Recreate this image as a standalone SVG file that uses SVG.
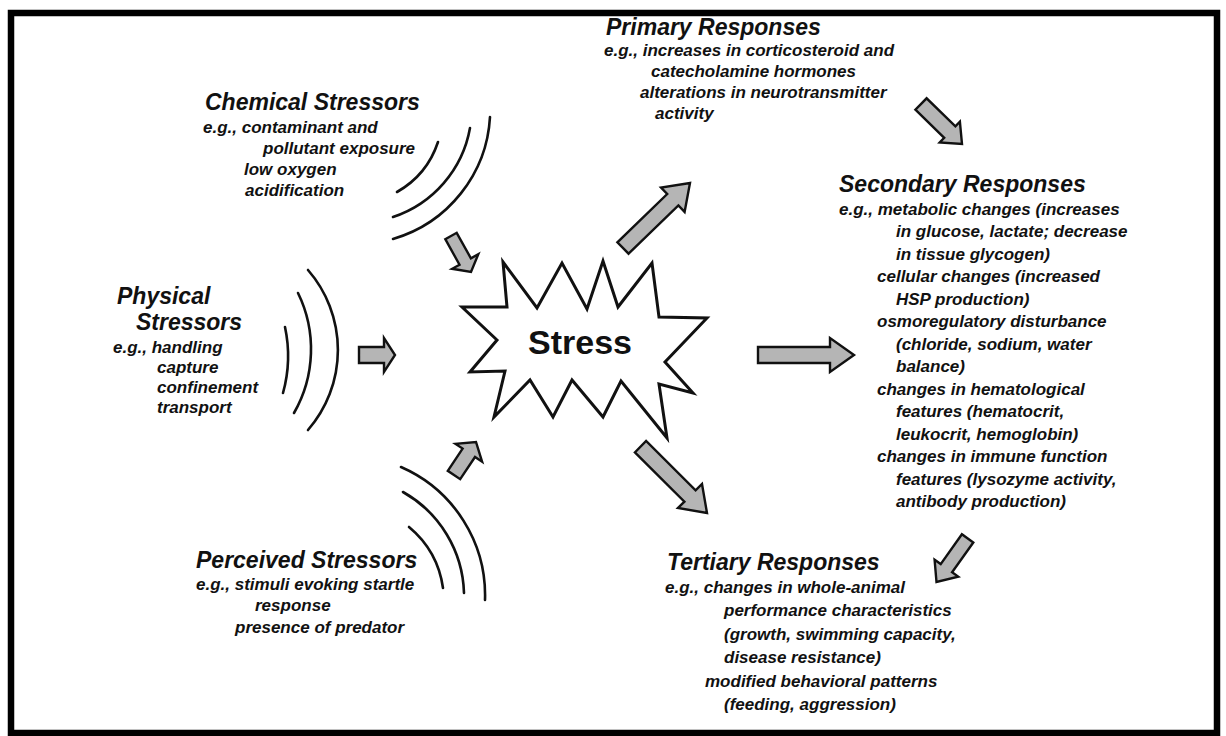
<svg xmlns="http://www.w3.org/2000/svg" width="1226" height="736" viewBox="0 0 1226 736">
<style>
text{font-family:"Liberation Sans",Arial,Helvetica,sans-serif;fill:#111}
.t{font-size:23px;font-weight:bold;font-style:italic}
.b{font-size:17px;font-weight:bold;font-style:italic}
.arc{fill:none;stroke:#111;stroke-width:2.6;stroke-linecap:round}
.arrow{fill:#b5b5b5;stroke:#111;stroke-width:2.4;stroke-linejoin:miter}
.star{fill:#fff;stroke:#111;stroke-width:3;stroke-linejoin:miter}
.stress{font-size:34px;font-weight:bold}
</style>
<rect x="0" y="0" width="1226" height="736" fill="#fff"/>
<rect x="11" y="13" width="1206" height="720" fill="none" stroke="#000" stroke-width="6.5"/>

<g id="chemical">
<text class="t" x="205" y="110">Chemical Stressors</text>
<text class="b" x="203" y="133">e.g., contaminant and</text>
<text class="b" x="263" y="154">pollutant exposure</text>
<text class="b" x="244" y="175">low oxygen</text>
<text class="b" x="245" y="196">acidification</text>
<path class="arc" d="M397,192 A90,90 0 0,0 438,142"/>
<path class="arc" d="M393,217 A115,115 0 0,0 470,128"/>
<path class="arc" d="M393,239 A135,135 0 0,0 490,117"/>
</g>

<g id="physical">
<text class="t" x="117" y="304">Physical</text>
<text class="t" x="136" y="330">Stressors</text>
<text class="b" x="113" y="353">e.g., handling</text>
<text class="b" x="157" y="373">capture</text>
<text class="b" x="157" y="393">confinement</text>
<text class="b" x="157" y="413">transport</text>
<path class="arc" d="M285,327 A138,138 0 0,1 283,393"/>
<path class="arc" d="M298,293 A128,128 0 0,1 294,413"/>
<path class="arc" d="M308,270 A122,122 0 0,1 308,430"/>
</g>

<g id="perceived">
<text class="t" x="196" y="568">Perceived Stressors</text>
<text class="b" x="196" y="590">e.g., stimuli evoking startle</text>
<text class="b" x="255" y="611">response</text>
<text class="b" x="235" y="633">presence of predator</text>
<path class="arc" d="M409,527 A97,97 0 0,1 443,588"/>
<path class="arc" d="M403,492 A120,120 0 0,1 464,593"/>
<path class="arc" d="M401,467 A140,140 0 0,1 485,600"/>
</g>

<g id="stress">
<polygon class="star" points="503,262 537,308 562,263 587,309 603,261 618,307 652,263 659,317 707,318 665,362 693,393 659,384 667,438 621,381 603,417 572,380 553,417 530,380 494,417 505,371 470,372 497,340 462,307 507,307"/>
<text class="stress" x="528" y="354">Stress</text>
</g>

<g id="primary">
<text class="t" x="606" y="35">Primary Responses</text>
<text class="b" x="604" y="56">e.g., increases in corticosteroid and</text>
<text class="b" x="651" y="77">catecholamine hormones</text>
<text class="b" x="640" y="98">alterations in neurotransmitter</text>
<text class="b" x="655" y="119">activity</text>
</g>

<g id="secondary">
<text class="t" x="839" y="192">Secondary Responses</text>
<text class="b" x="839" y="215">e.g., metabolic changes (increases</text>
<text class="b" x="896" y="237">in glucose, lactate; decrease</text>
<text class="b" x="896" y="260">in tissue glycogen)</text>
<text class="b" x="877" y="282">cellular changes (increased</text>
<text class="b" x="896" y="305">HSP production)</text>
<text class="b" x="877" y="327">osmoregulatory disturbance</text>
<text class="b" x="896" y="350">(chloride, sodium, water</text>
<text class="b" x="896" y="372">balance)</text>
<text class="b" x="877" y="395">changes in hematological</text>
<text class="b" x="896" y="417">features (hematocrit,</text>
<text class="b" x="896" y="440">leukocrit, hemoglobin)</text>
<text class="b" x="877" y="462">changes in immune function</text>
<text class="b" x="896" y="485">features (lysozyme activity,</text>
<text class="b" x="896" y="507">antibody production)</text>
</g>

<g id="tertiary">
<text class="t" x="667" y="570">Tertiary Responses</text>
<text class="b" x="665" y="593">e.g., changes in whole-animal</text>
<text class="b" x="724" y="616">performance characteristics</text>
<text class="b" x="724" y="640">(growth, swimming capacity,</text>
<text class="b" x="724" y="663">disease resistance)</text>
<text class="b" x="705" y="687">modified behavioral patterns</text>
<text class="b" x="724" y="710">(feeding, aggression)</text>
</g>

<g id="connectors">
<polygon id="a-chem" class="arrow" points="445.3,239.2 459.5,264.7 452.1,268.8 471,272 478.3,254.2 470.9,258.3 456.7,232.8"/>
<polygon id="a-phys" class="arrow" points="359,347 384,347 384,338 395,355 384,372 384,363 359,363"/>
<polygon id="a-perc" class="arrow" points="460.2,479.2 475,457 482.1,461.7 476,442 455.5,443.9 462.6,448.6 447.8,470.8"/>
<polygon id="a-primary" class="arrow" points="628.6,253.7 678.4,205.4 684.6,211.9 690,183 661,187.5 667.2,194 617.4,242.3"/>
<polygon id="a-secondary" class="arrow" points="758,347 830,347 830,338 854,355 830,372 830,363 758,363"/>
<polygon id="a-tertiary" class="arrow" points="634.9,452.4 684.4,501.7 678,508 707,513 702,484 695.6,490.3 646.1,441"/>
<polygon id="a-p2s" class="arrow" points="915.4,109.7 944.2,137.8 939.7,142.5 962,144 959.9,121.7 955.4,126.4 926.6,98.3"/>
<polygon id="a-s2t" class="arrow" points="961.9,534.3 940.7,564.1 934.6,559.8 936.5,582 958.2,576.6 952.1,572.3 973.3,542.5"/>
</g>
</svg>
